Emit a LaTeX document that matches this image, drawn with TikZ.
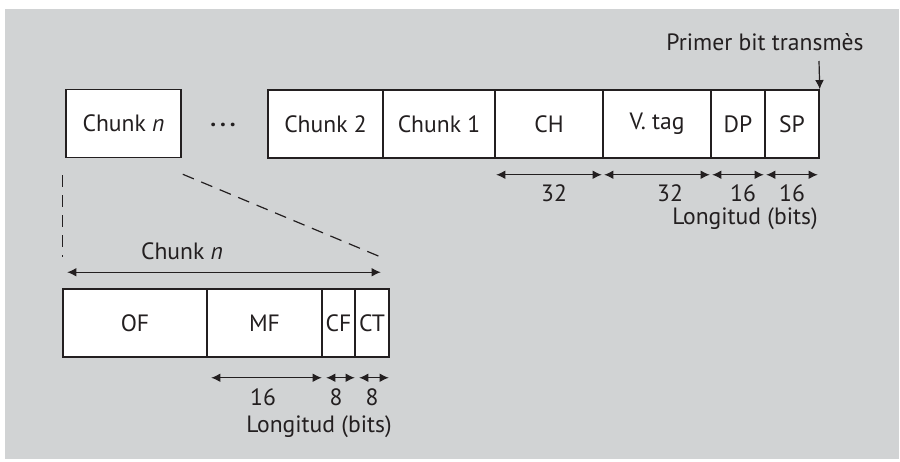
\documentclass[tikz,border=0pt]{standalone}
\usepackage{fontspec}
\setmainfont{PT Sans}
\usepackage{xcolor}
\usepackage{tikz}
\usetikzlibrary{positioning}
\usetikzlibrary{arrows.meta}
\definecolor{panel}{HTML}{D1D3D4}
\definecolor{ink}{HTML}{231F20}
\tikzstyle{field}=[rectangle,draw=ink,fill=white,line width=0.75pt,minimum height=34pt,inner sep=0pt,font=\fontsize{11.8}{13}\selectfont,text=ink]
\tikzstyle{dim} = [draw=ink,line width=0.6pt,{Latex[length=4.6pt,width=4.4pt]}-{Latex[length=4.6pt,width=4.4pt]}]
\tikzstyle{lbl} = [inner sep=0pt,font=\fontsize{11.8}{13}\selectfont,text=ink]
\tikzstyle{zoomline} = [draw=ink,line width=0.6pt,dash pattern=on 6pt off 4pt]

\begin{document}
\begin{tikzpicture}[x=0.5pt,y=-0.5pt]

 \useasboundingbox (0,0) rectangle (900,461);
 \fill[panel] (5,9) rectangle (899,459);

 \def\u{0.5pt}

 %Trama
 \node[field, minimum width=115*\u] (chunkn) at (123.5,123.5) {Chunk \textit{n}};
 \node[lbl, font=\fontsize{11.8}{13}\selectfont\bfseries] (dots) at (223,125) {.\kern2pt.\kern2pt.};

 \foreach \x/\w/\name/\label in {325.5/115/chtwo/Chunk 2, 439/112/chone/Chunk 1, 549/108/chd/CH,
                                  657/108/vtag/V. tag, 738/54/dp/DP, 792/54/sp/SP}
          \node[field, minimum width=\w*\u] (\name) at (\x,124) {\label};

 \foreach \name/\lx/\bits in {chd/554/32, vtag/670/32, dp/743/16, sp/792/16}
  {
   \draw[dim] ([xshift=2*\u,yshift=-16*\u]\name.south west) -- ([xshift=-2*\u,yshift=-16*\u]\name.south east);
   \node[lbl] (b-\name) at (\lx,193) {\bits};
  }
 \node[lbl] (lentop) at (745,219) {Longitud (bits)};

 \node[lbl] (first) at (765,42) {Primer bit transmès};
 \coordinate (firsttop) at (819,61);
 \draw[draw=ink,line width=0.6pt,-{Latex[length=4.6pt,width=4.4pt]}] (firsttop) -- (sp.north east);

 %Chunk n
 \foreach \x/\w/\name/\label in {135/144/of/OF, 264.5/115/mf/MF, 338.5/33/cf/CF, 372/34/ct/CT}
          \node[field, minimum width=\w*\u] (\name) at (\x,323) {\label};

 \foreach \name/\lx/\bits in {mf/263/16, cf/336/8, ct/372/8}
  {
   \draw[dim] ([xshift=5*\u,yshift=-20*\u]\name.south west) -- ([xshift=-1*\u,yshift=-20*\u]\name.south east);
   \node[lbl] (b-\name) at (\lx,397) {\bits};
  }
 \node[lbl] (lenbot) at (319,427) {Longitud (bits)};

 \draw[dim] ([xshift=5*\u,yshift=16*\u]of.north west) -- ([xshift=-9*\u,yshift=16*\u]ct.north east);
 \node[lbl] (chunklbl) at (182,251) {Chunk \textit{n}};

 \draw[zoomline] ([shift={(-3*\u,-17*\u)}]chunkn.south west) -- ([yshift=31*\u]of.north west);
 \draw[zoomline] ([shift={(1*\u,-16*\u)}]chunkn.south east) -- ([shift={(-6*\u,30*\u)}]ct.north east);

\end{tikzpicture}
\end{document}
